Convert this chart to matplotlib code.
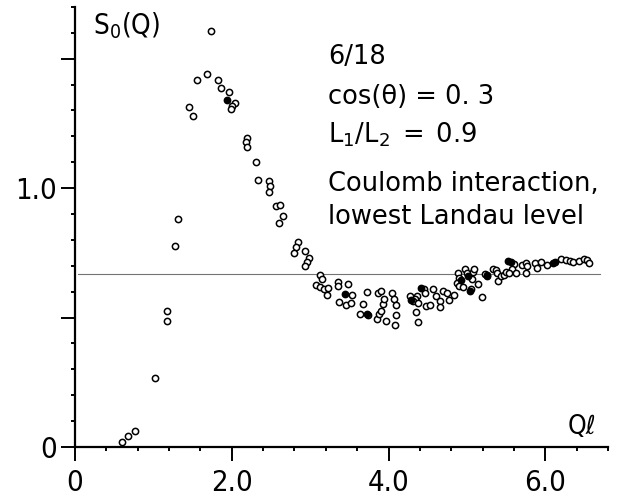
import numpy as np
import matplotlib
matplotlib.use("Agg")
import matplotlib.pyplot as plt

plt.rcParams['font.family'] = ['DejaVu Sans']
plt.rcParams['font.stretch'] = 'condensed'
plt.rcParams['mathtext.fontset'] = 'dejavusans'

# ---- data ----
open_x = [0.60, 0.67, 0.76, 1.02, 1.17, 1.18, 1.27, 1.31, 1.45, 1.51, 1.56, 1.68, 1.74,
          1.83, 1.86, 1.96, 2.04, 2.00, 1.99, 2.19, 2.18, 2.19, 2.31, 2.33, 2.48, 2.49,
          2.47, 2.56, 2.61, 2.66, 2.60, 2.84, 2.82, 2.79, 2.93, 2.98, 2.96, 2.93, 3.13,
          3.15, 3.08, 3.12, 3.18, 3.23, 3.22, 3.35, 3.35, 3.48, 3.53, 3.37, 3.46, 3.52,
          3.67, 3.63, 3.74, 3.73, 3.86, 3.91, 3.85, 3.88, 3.91, 3.93, 3.94, 3.97, 4.05,
          4.07, 4.09, 4.10, 4.08, 4.27, 4.36, 4.34, 4.31, 4.38, 4.35, 4.37, 4.45, 4.46,
          4.48, 4.53, 4.57, 4.61, 4.66, 4.66, 4.69, 4.74, 4.77, 4.83, 4.89, 4.90, 4.87,
          4.90, 4.95, 4.97, 5.00, 5.05, 5.08, 5.09, 5.06, 5.14, 5.19, 5.23, 5.26, 5.33,
          5.37, 5.39, 5.40, 5.44, 5.47, 5.50, 5.60, 5.57, 5.54, 5.63, 5.70, 5.76, 5.77,
          5.75, 5.87, 5.89, 5.95, 6.02, 6.20, 6.27, 6.31, 6.35, 6.43, 6.49, 6.53, 6.56]
open_y = [0.021, 0.044, 0.063, 0.267, 0.526, 0.487, 0.775, 0.881, 1.315, 1.280, 1.416,
          1.442, 1.606, 1.416, 1.388, 1.371, 1.328, 1.317, 1.306, 1.195, 1.177, 1.160,
          1.100, 1.031, 1.028, 1.009, 0.986, 0.931, 0.934, 0.893, 0.867, 0.792, 0.774,
          0.751, 0.758, 0.731, 0.716, 0.698, 0.664, 0.650, 0.624, 0.617, 0.609, 0.615,
          0.586, 0.638, 0.621, 0.628, 0.589, 0.561, 0.547, 0.557, 0.552, 0.512, 0.508,
          0.598, 0.596, 0.602, 0.495, 0.515, 0.524, 0.553, 0.570, 0.488, 0.596, 0.572,
          0.547, 0.508, 0.473, 0.585, 0.585, 0.570, 0.563, 0.557, 0.521, 0.482, 0.611,
          0.596, 0.544, 0.550, 0.611, 0.585, 0.563, 0.541, 0.602, 0.593, 0.566, 0.589,
          0.673, 0.654, 0.634, 0.621, 0.619, 0.686, 0.671, 0.611, 0.676, 0.686, 0.650,
          0.628, 0.579, 0.667, 0.663, 0.686, 0.683, 0.673, 0.641, 0.660, 0.663, 0.676,
          0.705, 0.686, 0.671, 0.671, 0.702, 0.712, 0.699, 0.673, 0.709, 0.693, 0.714,
          0.702, 0.725, 0.722, 0.718, 0.714, 0.718, 0.727, 0.722, 0.712]

filled_x = [1.94, 3.44, 3.73, 4.29, 4.42, 4.93, 5.02, 5.04, 5.25, 5.53, 5.56, 6.10, 6.12]
filled_y = [1.341, 0.592, 0.512, 0.567, 0.615, 0.645, 0.660, 0.602, 0.660, 0.718, 0.714,
            0.712, 0.714]

ref_level = 0.67
ref_x = [0.04, 6.70]

x_major = [0, 2.0, 4.0, 6.0]
x_major_labels = ['0', '2.0', '4.0', '6.0']
y_major = [0, 0.5, 1.0, 1.5]
y_major_labels = ['0', '', '1.0', '']

annot_lines = ['6/18',
               'cos(θ) = 0. 3',
               r'$\mathregular{L_1/L_2\ =\ 0.9}$',
               'Coulomb interaction,',
               'lowest Landau level']
annot_y = [1.481, 1.326, 1.178, 0.988, 0.860]

# ---- figure ----
fig = plt.figure(figsize=(6.25, 5.03), dpi=100)
ax = fig.add_axes([0.12, 0.1113, 0.8528, 0.875])
ax.set_xlim(0, 6.8)
ax.set_ylim(0, 1.7)

for s in ['top', 'right']:
    ax.spines[s].set_visible(False)
for s in ['left', 'bottom']:
    ax.spines[s].set_linewidth(1.6)

ax.plot(ref_x, [ref_level, ref_level], color='0.45', lw=0.8, zorder=1)

ax.plot(open_x, open_y, 'o', ms=4.5, mfc='white', mec='black', mew=1.1, zorder=3,
        clip_on=False)
ax.plot(filled_x, filled_y, 'o', ms=4.5, mfc='black', mec='black', mew=1.1, zorder=4,
        clip_on=False)

ax.set_xticks(x_major)
ax.set_xticklabels(x_major_labels)
ax.set_xticks(np.arange(0, 6.81, 0.4), minor=True)
ax.set_yticks(y_major)
ax.set_yticklabels(y_major_labels)
ax.set_yticks(np.arange(0, 1.71, 0.1), minor=True)

ax.tick_params(which='major', direction='out', length=10, width=1.4, labelsize=21,
               pad=3)
ax.tick_params(axis='x', which='major', pad=6)
ax.tick_params(which='minor', direction='out', length=3, width=1.4)

ax.text(0.23, 1.595, r'$\mathregular{S_0(Q)}$', fontsize=20, ha='left', va='baseline')
ax.text(6.47, 0.05, 'Qℓ', fontsize=19, ha='center', va='baseline')

for t, yv in zip(annot_lines, annot_y):
    ax.text(3.23, yv, t, fontsize=18.5, ha='left', va='baseline', fontstretch='normal')

fig.savefig('out.png', dpi=100)
